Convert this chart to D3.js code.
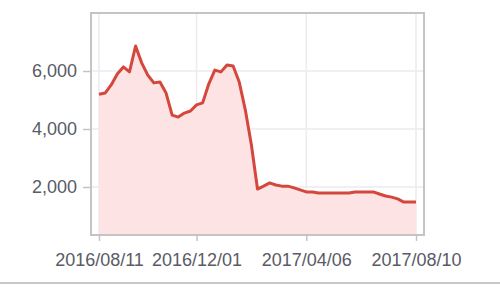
<!DOCTYPE html>
<html>
<head>
<meta charset="utf-8">
<script src="https://cdnjs.cloudflare.com/ajax/libs/d3/7.8.5/d3.min.js"></script>
<style>
  body { margin: 0; background: #fff; }
  svg { display: block; font-family: "Liberation Sans", Arial, sans-serif; }
</style>
</head>
<body>
<div id="chart"></div>
<script>
// weekly values, starting 2016/08/11
var startDate = "2016-08-11";
var values = [
  5200, 5240, 5520, 5900, 6140, 5970, 6860, 6280, 5860, 5590,
  5620, 5240, 4480, 4410, 4550, 4620, 4830, 4900, 5550, 6030,
  5970, 6210, 6170, 5620, 4660, 3450, 1930, 2030, 2140, 2070,
  2030, 2030, 1970, 1900, 1830, 1830, 1790, 1790, 1790, 1790,
  1790, 1790, 1830, 1830, 1830, 1830, 1760, 1690, 1650, 1590,
  1480, 1480, 1480
];
var xTickLabels = ["2016/08/11", "2016/12/01", "2017/04/06", "2017/08/10"];
var yTicks = [2000, 4000, 6000];

var width = 500, height = 287;
var box = {left: 91, right: 424, top: 13, bottom: 235};

var parse = d3.timeParse("%Y-%m-%d");
var parseLabel = d3.timeParse("%Y/%m/%d");
var start = parse(startDate);

var data = values.map(function(v, i) {
  return {date: d3.timeDay.offset(start, i * 7), value: v};
});

var x = d3.scaleTime()
    .domain([data[0].date, data[data.length - 1].date])
    .range([box.left + 8, box.right - 8]);

var y = d3.scaleLinear()
    .domain([0, 8000])
    .range([box.bottom + 10, box.top]);

var svg = d3.select("#chart").append("svg")
    .attr("width", width)
    .attr("height", height);

// grid
var tickDates = xTickLabels.map(function(s) { return parseLabel(s); });

svg.append("g").selectAll("line")
    .data(tickDates)
    .enter().append("line")
    .attr("x1", function(d) { return x(d); })
    .attr("x2", function(d) { return x(d); })
    .attr("y1", box.top)
    .attr("y2", box.bottom)
    .attr("stroke", "#ebebf0")
    .attr("stroke-width", 1.5);

svg.append("g").selectAll("line")
    .data(yTicks)
    .enter().append("line")
    .attr("x1", box.left)
    .attr("x2", box.right)
    .attr("y1", function(d) { return y(d); })
    .attr("y2", function(d) { return y(d); })
    .attr("stroke", "#ebebf0")
    .attr("stroke-width", 1.5);

// area + line
var area = d3.area()
    .x(function(d) { return x(d.date); })
    .y0(box.bottom)
    .y1(function(d) { return y(d.value); });

var line = d3.line()
    .x(function(d) { return x(d.date); })
    .y(function(d) { return y(d.value); });

svg.append("path")
    .datum(data)
    .attr("d", area)
    .attr("fill", "#fde3e3");

svg.append("path")
    .datum(data)
    .attr("d", line)
    .attr("fill", "none")
    .attr("stroke", "#d4473d")
    .attr("stroke-width", 3)
    .attr("stroke-linejoin", "round");

// frame
svg.append("rect")
    .attr("x", box.left)
    .attr("y", box.top)
    .attr("width", box.right - box.left)
    .attr("height", box.bottom - box.top)
    .attr("fill", "none")
    .attr("stroke", "#c4c4c4")
    .attr("stroke-width", 2);

// axes
var yAxis = d3.axisLeft(y)
    .tickValues(yTicks)
    .tickSize(8)
    .tickPadding(6)
    .tickFormat(d3.format(","));

var gy = svg.append("g")
    .attr("transform", "translate(" + box.left + ",0)")
    .call(yAxis);
gy.select(".domain").remove();
gy.selectAll(".tick line").attr("stroke", "#c4c4c4").attr("stroke-width", 1.5);
gy.selectAll(".tick text")
    .attr("fill", "#5a5a66")
    .style("font-size", "18px");

var xAxis = d3.axisBottom(x)
    .tickValues(tickDates)
    .tickSize(6)
    .tickPadding(12)
    .tickFormat(d3.timeFormat("%Y/%m/%d"));

var gx = svg.append("g")
    .attr("transform", "translate(0," + box.bottom + ")")
    .call(xAxis);
gx.select(".domain").remove();
gx.selectAll(".tick line").attr("stroke", "#c4c4c4").attr("stroke-width", 1.5);
gx.selectAll(".tick text")
    .attr("fill", "#5a5a66")
    .style("font-size", "18px");

// bottom rule of the page
svg.append("line")
    .attr("x1", 0)
    .attr("x2", width)
    .attr("y1", 283)
    .attr("y2", 283)
    .attr("stroke", "#c8c8c8")
    .attr("stroke-width", 2);
</script>
</body>
</html>
